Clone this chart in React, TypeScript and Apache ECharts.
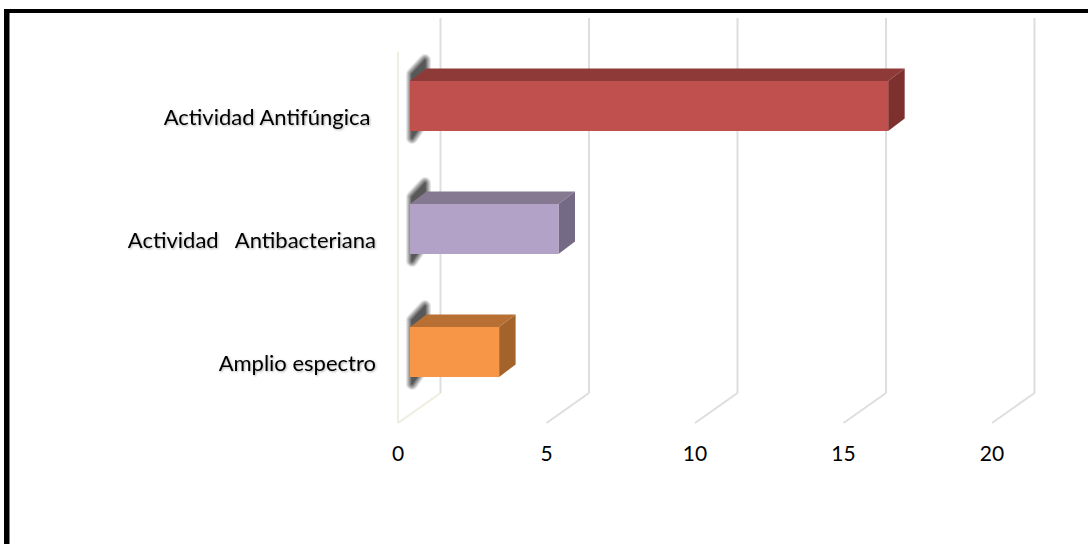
import React, { useEffect, useRef } from "react";
import * as echarts from "echarts";

// Activity types, listed from the bottom of the chart upwards
const categories = ["Amplio espectro", "Actividad   Antibacteriana", "Actividad Antifúngica\u00A0"];
const counts = [3, 5, 16.1];
const axisTicks = [0, 5, 10, 15, 20];

const frontColors = ["#F79646", "#B2A2C7", "#C0504D"];
const topColors = ["#B86F34", "#857991", "#8E3A38"];
const sideColors = ["#A3632B", "#756A85", "#7E302E"];

const FONT = "Lato, 'Open Sans', sans-serif";

// Oblique projection of the chart's depth axis
const FLOOR_DX = 42.5;
const FLOOR_DY = -31;
const BAR_SHIFT_X = 12;
const BAR_SHIFT_Y = -10.5;
const BAR_DX = 16.5;
const BAR_DY = -12.5;
const WALL_TOP = 18;
const BAR_RATIO = 0.405;

// Stroke widths and greys stacked from the outside in to feather the wall shadow's edge
const shadowWidths = [12, 10, 8, 6, 4, 2, 1];
const shadowGreys = ["#E6E6E6", "#CCCCCC", "#B0B0B0", "#949494", "#7A7A7A", "#666666", "#585858"];

function renderWallLine(params: any, api: any) {
  const value = api.value(0);
  const x = api.coord([value, 0])[0];
  const floorY = params.coordSys.y + params.coordSys.height;
  const floorColor = value === 0 ? "#EFEDE0" : "#DEDEDE";
  const children: any[] = [
    {
      type: "line",
      shape: { x1: x, y1: floorY - 1, x2: x + FLOOR_DX, y2: floorY + FLOOR_DY },
      style: { stroke: floorColor, lineWidth: 2 },
    },
    {
      type: "line",
      shape: { x1: x + FLOOR_DX, y1: floorY + FLOOR_DY, x2: x + FLOOR_DX, y2: WALL_TOP },
      style: { stroke: "#DEDEDE", lineWidth: 2 },
    },
  ];
  // The zero line also carries the pale left wall
  if (value === 0) {
    children.push({
      type: "line",
      shape: { x1: x, y1: floorY - 1, x2: x, y2: 52 },
      style: { stroke: "#EFEDE0", lineWidth: 2 },
    });
  }
  return { type: "group", children };
}

function renderBar(params: any, api: any) {
  const index = api.value(1);
  const end = api.coord([api.value(0), index]);
  const start = api.coord([0, index]);
  const height = api.size([0, 1])[1] * BAR_RATIO;
  const left = start[0] + BAR_SHIFT_X;
  const right = end[0] + BAR_SHIFT_X;
  const top = start[1] + BAR_SHIFT_Y - height / 2;
  const bottom = top + height;
  const shadowPoints = [
    [left + 2, top - 7],
    [left + 15, top - 21],
    [left + 15, bottom - 12],
    [left + 2, bottom + 7],
  ];
  return {
    type: "group",
    children: [
      // Soft shadow cast on the back wall behind the bar's root
      ...shadowWidths.map((w, i) => ({
        type: "polygon",
        shape: { points: shadowPoints },
        style: {
          fill: shadowGreys[i],
          stroke: shadowGreys[i],
          lineWidth: w,
          lineJoin: "round",
        },
      })),
      {
        type: "polygon",
        shape: {
          points: [
            [left, top],
            [left + BAR_DX, top + BAR_DY],
            [right + BAR_DX, top + BAR_DY],
            [right, top],
          ],
        },
        style: { fill: topColors[index] },
      },
      {
        type: "polygon",
        shape: {
          points: [
            [right, top],
            [right + BAR_DX, top + BAR_DY],
            [right + BAR_DX, bottom + BAR_DY],
            [right, bottom],
          ],
        },
        style: { fill: sideColors[index] },
      },
      {
        type: "rect",
        shape: { x: left, y: top, width: right - left, height },
        style: { fill: frontColors[index] },
      },
    ],
  };
}

export default function App() {
  const ref = useRef<HTMLDivElement>(null);

  useEffect(() => {
    const chart = echarts.init(ref.current!, undefined, { renderer: "svg" });
    chart.setOption({
      animation: false,
      backgroundColor: "#FFFFFF",
      grid: { left: 398, right: 96, top: 55, bottom: 120 },
      xAxis: {
        type: "value",
        min: 0,
        max: 20,
        interval: 5,
        axisLine: { show: false },
        axisTick: { show: false },
        splitLine: { show: false },
        axisLabel: {
          margin: 18,
          fontFamily: FONT,
          fontSize: 21,
          color: "#000000",
          formatter: (v: number) => (axisTicks.includes(v) ? String(v) : ""),
        },
      },
      yAxis: {
        type: "category",
        data: categories,
        axisLine: { show: false },
        axisTick: { show: false },
        splitLine: { show: false },
        axisLabel: {
          margin: 22,
          fontFamily: FONT,
          fontSize: 22,
          color: "#000000",
          textShadowColor: "rgba(0,0,0,0.3)",
          textShadowBlur: 2,
          textShadowOffsetX: 1,
          textShadowOffsetY: 1,
        },
      },
      series: [
        {
          type: "custom",
          silent: true,
          clip: false,
          renderItem: renderWallLine,
          encode: { x: 0 },
          data: axisTicks.map((v) => [v]),
          z: 1,
        },
        {
          type: "custom",
          silent: true,
          clip: false,
          renderItem: renderBar,
          encode: { x: 0, y: 1 },
          data: counts.map((v, i) => [v, i]),
          z: 2,
        },
      ],
      graphic: [
        // Frame around the figure: only its top and left edges fall inside the page
        { type: "rect", silent: true, z: 10, shape: { x: 4, y: 9, width: 1084, height: 4 }, style: { fill: "#000000" } },
        { type: "rect", silent: true, z: 10, shape: { x: 4, y: 9, width: 5.5, height: 535 }, style: { fill: "#000000" } },
      ],
    });
    return () => chart.dispose();
  }, []);

  return <div ref={ref} style={{ position: "fixed", left: 0, top: 0, width: 1088, height: 544 }} />;
}
